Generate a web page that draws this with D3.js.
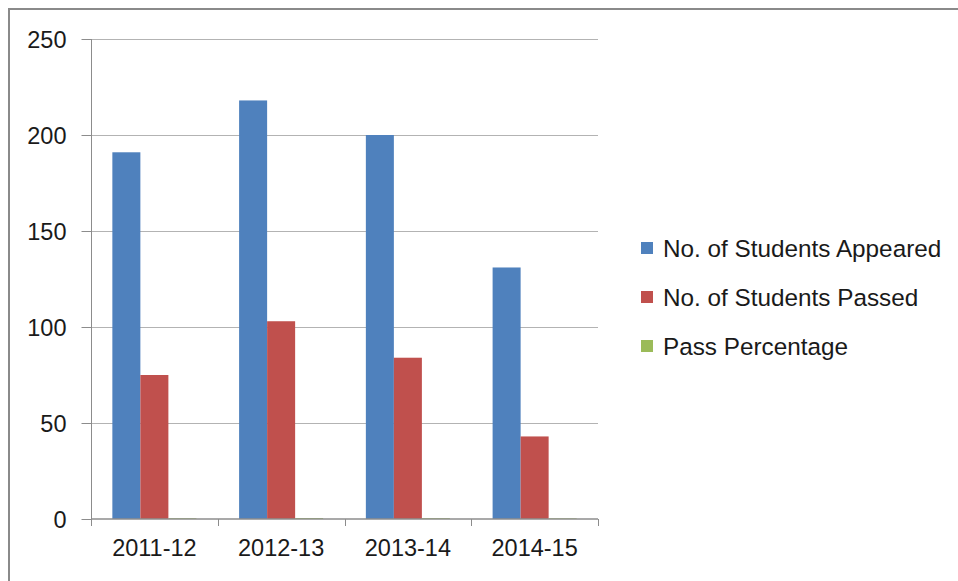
<!DOCTYPE html>
<html><head><meta charset="utf-8">
<script src="https://cdn.jsdelivr.net/npm/d3@7"></script>
<style>body{margin:0;background:#fff}svg{display:block}text{font-family:"Liberation Sans",Arial,sans-serif;fill:#1a1a1a}</style>
</head><body>
<svg id="c" width="958" height="581"></svg>
<script>
const categories = ["2011-12","2012-13","2013-14","2014-15"];
const appeared = [191, 218, 200, 131];
const passed = [75, 103, 84, 43];
const passPct = [0.39, 0.47, 0.42, 0.33];
const seriesNames = ["No. of Students Appeared","No. of Students Passed","Pass Percentage"];
const colors = ["#4F81BD","#C0504D","#9BBB59"];
const yTicks = [0,50,100,150,200,250];

const svg = d3.select("#c");
svg.append("rect").attr("x",0).attr("y",0).attr("width",958).attr("height",581).attr("fill","#fff");
// outer frame
svg.append("path").attr("d","M9,600 V9 H980").attr("fill","none").attr("stroke","#8a8a8a").attr("stroke-width",2);

const L=91,R=598,T=39,B=519;
const x = d3.scaleBand().domain(categories).range([L,R]).paddingInner(0).paddingOuter(0);
const y = d3.scaleLinear().domain([0,250]).range([B,T]);
const groupW = x.bandwidth()*0.663;
const xs = d3.scaleBand().domain(seriesNames).range([0,groupW]);
const off = (x.bandwidth()-groupW)/2;

// gridlines
svg.append("g").selectAll("line").data(yTicks.filter(d=>d>0)).join("line")
  .attr("x1",L).attr("x2",R).attr("y1",d=>Math.round(y(d))+0.5).attr("y2",d=>Math.round(y(d))+0.5)
  .attr("stroke","#b3b3b3").attr("stroke-width",1);

const data = [appeared, passed, passPct];
seriesNames.forEach((s,i)=>{
  svg.append("g").selectAll("rect").data(categories).join("rect")
    .attr("x",c=>x(c)+off+xs(s)).attr("width",xs.bandwidth())
    .attr("y",(c,j)=>y(data[i][j])).attr("height",(c,j)=>B-y(data[i][j]))
    .attr("fill",colors[i]);
});

// y axis
const ya = svg.append("g").attr("transform",`translate(${L+0.5},0)`)
  .call(d3.axisLeft(y).tickValues(yTicks).tickSize(10).tickPadding(15));
ya.select(".domain").attr("stroke","#8c8c8c").attr("d",`M0,${T}V${B}`);
ya.selectAll(".tick line").attr("stroke","#8c8c8c");
ya.selectAll(".tick text").style("font-size","23.5px").attr("fill","#1a1a1a").attr("dy","0.35em");

// x axis
const xa = svg.append("g").attr("transform",`translate(0,${B})`)
  .call(d3.axisBottom(x).tickSize(0).tickPadding(20));
xa.select(".domain").attr("stroke","#8c8c8c").attr("stroke-width",1.5).attr("d",`M${L},0H${R}`);
xa.selectAll(".tick text").style("font-size","23.5px").attr("fill","#1a1a1a");
const xt = categories.map(c=>x(c)).concat([R]);
xa.selectAll(".bt").data(xt).join("line").attr("x1",d=>Math.round(d)+0.5).attr("x2",d=>Math.round(d)+0.5)
  .attr("y1",0).attr("y2",7).attr("stroke","#8c8c8c");

// legend
const lg = svg.append("g");
seriesNames.forEach((s,i)=>{
  const cy = 248 + i*49;
  lg.append("rect").attr("x",641).attr("y",cy-6).attr("width",12).attr("height",12).attr("fill",colors[i]);
  lg.append("text").attr("x",663).attr("y",cy).attr("dy","0.35em").style("font-size","24.3px").text(s);
});
</script>
</body></html>
